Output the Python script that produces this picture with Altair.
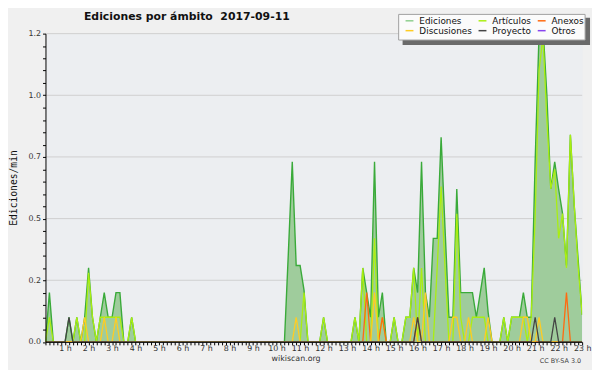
import altair as alt
import pandas as pd

# ---- data (edits per minute, 10-minute slots, key = minutes since 00:00) ----
TIMES = list(range(10, 1390, 10))  # 00:10 .. 23:00

EDICIONES = {
    20: 0.2, 70: 0.1, 90: 0.1, 110: 0.1, 120: 0.3, 130: 0.1,
    150: 0.1, 160: 0.2, 170: 0.1, 180: 0.1, 190: 0.2, 200: 0.2, 230: 0.1,
    630: 0.36, 640: 0.73, 650: 0.31, 660: 0.31, 670: 0.21, 720: 0.1, 800: 0.1,
    820: 0.3, 830: 0.2, 840: 0.1, 850: 0.73, 860: 0.1, 870: 0.2, 900: 0.1,
    930: 0.1, 940: 0.1, 950: 0.3, 960: 0.2, 970: 0.73, 980: 0.2, 990: 0.1,
    1000: 0.42, 1010: 0.42, 1020: 0.83, 1030: 0.46, 1040: 0.1, 1050: 0.1,
    1060: 0.62, 1070: 0.2, 1080: 0.2, 1090: 0.2, 1100: 0.2, 1110: 0.1,
    1120: 0.2, 1130: 0.3, 1140: 0.12, 1180: 0.1, 1200: 0.1, 1210: 0.1,
    1220: 0.1, 1230: 0.2, 1240: 0.1, 1250: 0.1, 1260: 0.73, 1270: 1.25,
    1280: 1.28, 1290: 1.0, 1300: 0.62, 1310: 0.73, 1320: 0.62, 1330: 0.52,
    1340: 0.31, 1350: 0.84, 1360: 0.55, 1370: 0.33, 1380: 0.11,
}
ARTICULOS = {
    20: 0.1, 90: 0.1, 120: 0.28, 130: 0.1, 150: 0.1, 160: 0.1, 170: 0.1,
    180: 0.1, 190: 0.1, 200: 0.1, 230: 0.1, 670: 0.2, 720: 0.1, 800: 0.1,
    820: 0.3, 850: 0.42, 870: 0.1, 900: 0.1, 930: 0.1, 940: 0.1, 950: 0.3,
    970: 0.3, 1010: 0.3, 1020: 0.63, 1030: 0.3, 1060: 0.52, 1070: 0.1,
    1100: 0.1, 1110: 0.1, 1120: 0.1, 1130: 0.1, 1180: 0.1, 1200: 0.1,
    1210: 0.1, 1220: 0.1, 1230: 0.1, 1250: 0.1, 1260: 0.5, 1270: 1.1,
    1280: 1.24, 1290: 0.9, 1300: 0.62, 1310: 0.7, 1320: 0.42, 1330: 0.52,
    1340: 0.3, 1350: 0.84, 1360: 0.55, 1370: 0.3, 1380: 0.11,
}
DISCUSIONES = {
    110: 0.1, 160: 0.1, 190: 0.1, 650: 0.1, 850: 0.2, 950: 0.1, 980: 0.2,
    1050: 0.1, 1060: 0.1, 1090: 0.1, 1140: 0.1, 1230: 0.1, 1240: 0.1, 1270: 0.1,
}
ANEXOS = {830: 0.2, 870: 0.1, 960: 0.1, 1340: 0.2}
PROYECTO = {70: 0.1, 960: 0.1, 1260: 0.1, 1310: 0.1}
OTROS = {}

SERIES = ["Ediciones", "Artículos", "Anexos", "Discusiones", "Proyecto", "Otros"]
COLORS = ["#8fcf8f", "#aaee11", "#ff6a10", "#ffcc22", "#444444", "#8844ee"]
LINE_ORDER = ["Artículos", "Discusiones", "Anexos", "Proyecto", "Otros"]

Y_TICKS = [0.0, 0.05, 0.1, 0.15, 0.2, 0.25, 0.3, 0.35, 0.4, 0.45, 0.5, 0.55,
           0.6, 0.65, 0.7, 0.75, 0.8, 0.85, 0.9, 0.95, 1.0, 1.05, 1.1, 1.15,
           1.2, 1.25]
Y_MAJOR = [0.25, 0.5, 0.75, 1.0, 1.25]
Y_MAJOR_ALL = [0.0, 0.25, 0.5, 0.75, 1.0, 1.25]
Y_LABELS = ["0.0", "0.2", "0.5", "0.7", "1.0", "1.2"]

TITLE = "Ediciones por ámbito \u00a02017-09-11"
Y_TITLE = "Ediciones/min"
FOOT = "wikiscan.org"
LICENSE = "CC BY-SA 3.0"

# ---- build tables ----
src = {"Ediciones": EDICIONES, "Artículos": ARTICULOS, "Anexos": ANEXOS,
       "Discusiones": DISCUSIONES, "Proyecto": PROYECTO, "Otros": OTROS}
rows = []
for name in SERIES:
    d = src[name]
    for t in TIMES:
        rows.append({"t": t, "serie": name, "v": d.get(t, 0.0),
                     "ord": LINE_ORDER.index(name) if name in LINE_ORDER else -1})
df = pd.DataFrame(rows)
ed = df[df.serie == "Ediciones"]
subs = df[(df.serie != "Ediciones") & (df.serie != "Otros")]

W, H = 544, 312.5
xs = alt.Scale(domain=[10, 1380], nice=False)
ys = alt.Scale(domain=[0, 1.25], nice=False)

lab_expr = " : ".join(
    [f"abs(datum.value - {v}) < 0.001 ? '{l}'" for v, l in zip(Y_MAJOR_ALL, Y_LABELS)]
) + " : ''"

x_axis = alt.Axis(values=TIMES, title=None, grid=False, tickSize=3, tickColor="#000",
                  domainColor="#000", labelFont="DejaVu Sans", labelFontSize=8,
                  labelColor="#333", labelPadding=0, labelOverlap=False, labelFlush=False,
                  zindex=1,
                  labelExpr="datum.value % 60 == 0 ? (datum.value / 60) + ' h' : ''")
y_axis = alt.Axis(values=Y_TICKS, title=None, grid=False, tickSize=3, tickColor="#000",
                  domainColor="#000", labelFont="DejaVu Sans", labelFontSize=8,
                  labelColor="#333", labelPadding=2, labelOverlap=False, labelFlush=False,
                  zindex=1, labelExpr=lab_expr)

X = alt.X("t:Q", scale=xs, axis=x_axis)
Y = alt.Y("v:Q", scale=ys, axis=y_axis)

grid = alt.Chart(pd.DataFrame({"g": Y_MAJOR})).mark_rule(
    color="#cfcfcf", strokeWidth=1).encode(
    y=alt.Y("g:Q", scale=ys, axis=y_axis))

area = alt.Chart(ed).mark_area(color="#9fcc9c", clip=True, interpolate="linear").encode(
    x=X, y=Y)
ed_line = alt.Chart(ed).mark_line(color="#3aaa3a", strokeWidth=1.4, clip=True).encode(
    x=X, y=Y)
lines = alt.Chart(subs).mark_line(strokeWidth=1.3, clip=True).encode(
    x=X, y=Y,
    color=alt.Color("serie:N", scale=alt.Scale(domain=SERIES, range=COLORS),
                    legend=alt.Legend(title=None, orient="none", legendX=364, legendY=-18,
                                      columns=3, direction="horizontal",
                                      symbolType="stroke", symbolSize=64,
                                      symbolStrokeWidth=1.5, labelFont="DejaVu Sans",
                                      labelFontSize=9, labelColor="#111", labelOffset=5,
                                      columnPadding=3, rowPadding=0, padding=0)),
    order="ord:Q",
)

one = pd.DataFrame({"k": [0]})
shadow = alt.Chart(one).mark_rect(color="#6a6a6a").encode(
    x=alt.value(362), x2=alt.value(552), y=alt.value(-16), y2=alt.value(11.5))
box = alt.Chart(one).mark_rect(fill="#fbfbfb", stroke="#a0a0a0", strokeWidth=1).encode(
    x=alt.value(358), x2=alt.value(547), y=alt.value(-19.5), y2=alt.value(6.5))

title = alt.Chart(pd.DataFrame({"s": [TITLE]})).mark_text(
    font="DejaVu Sans", fontSize=11, fontWeight="bold", align="left",
    baseline="alphabetic", color="#111").encode(
    x=alt.value(39), y=alt.value(-13.5), text="s:N")
ytitle = alt.Chart(pd.DataFrame({"s": [Y_TITLE]})).mark_text(
    font="DejaVu Sans Mono", fontSize=9.8, angle=270, align="center",
    baseline="middle", color="#111").encode(
    x=alt.value(-32), y=alt.value(156.5), text="s:N")
foot = alt.Chart(pd.DataFrame({"s": [FOOT]})).mark_text(
    font="DejaVu Sans", fontSize=8, align="center", baseline="middle", color="#333").encode(
    x=alt.value(254), y=alt.value(329.5), text="s:N")
lic = alt.Chart(pd.DataFrame({"s": [LICENSE]})).mark_text(
    font="DejaVu Sans", fontSize=6.5, align="right", baseline="middle", color="#444").encode(
    x=alt.value(543), y=alt.value(331.5), text="s:N")

chart = alt.layer(grid, area, ed_line, lines, shadow, box, title, ytitle, foot, lic).properties(
    width=W, height=H,
    padding={"left": 38, "top": 23.5, "right": 10, "bottom": 26},
    autosize=alt.AutoSizeParams(type="none"),
    background="#f0f0f0",
).configure_view(fill="#eceef1", strokeOpacity=0)

chart.save("out.html", embed_options={"renderer": "svg", "actions": False})
